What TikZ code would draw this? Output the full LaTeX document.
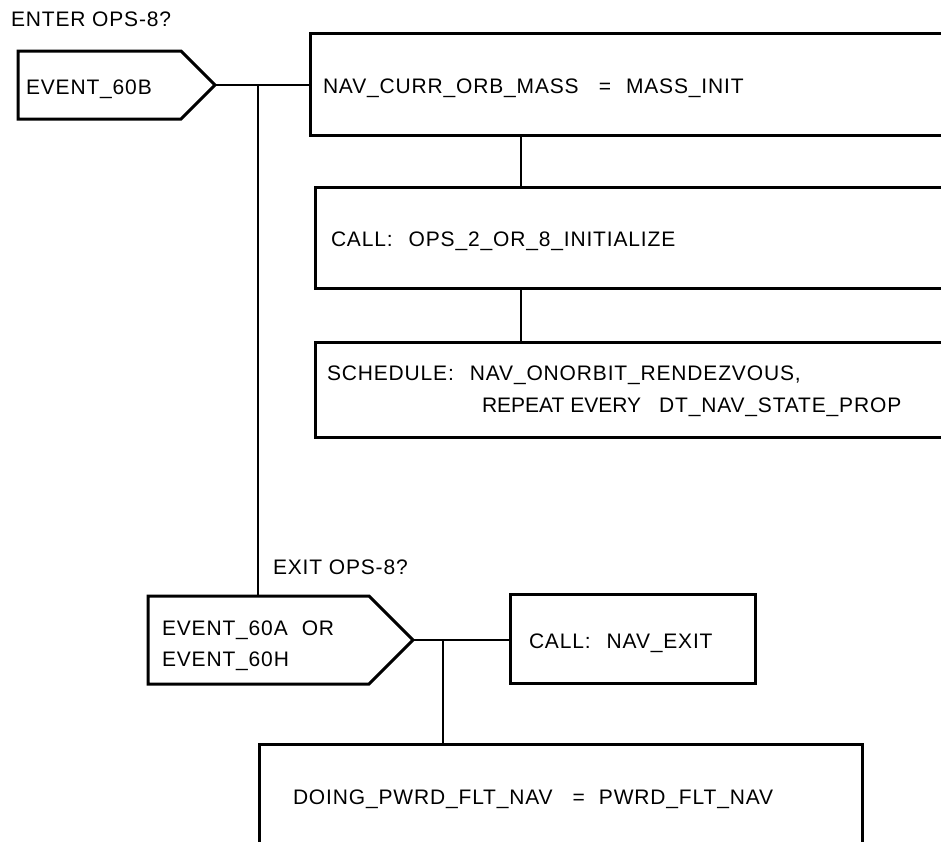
\documentclass[tikz,border=0pt]{standalone}
\usepackage{fontspec}
\setmainfont{Liberation Sans}[LetterSpace=4.0]
\newfontfamily\plainfont{Liberation Sans}
\begin{document}
\begin{tikzpicture}[x=1pt,y=-1pt,
  outline/.style={draw=black,line width=3pt,line join=miter},
  wire/.style={draw=black,line width=2.6pt},
  txt/.style={anchor=base west,inner sep=0pt,outer sep=0pt,text=black,font=\fontsize{21}{31}\selectfont},
  box/.style={draw=black,line width=3pt,rectangle,inner sep=0pt,outer sep=0pt,anchor=north west}]
\fill[white] (0,0) rectangle (941,841);
\useasboundingbox (0,0) rectangle (941,841);

% boxes
\node[box,minimum width=650pt,minimum height=102pt] (b1) at (310,33) {};
\node[box,minimum width=650pt,minimum height=101pt] (b2) at (315,187) {};
\node[box,minimum width=650pt,minimum height=95pt] (b3) at (315,342) {};
\node[box,minimum width=245pt,minimum height=89pt] (b4) at (510,594) {};
\node[box,minimum width=603pt,minimum height=160pt] (b5) at (259,744) {};

% pentagons
\coordinate (p1a) at (18,51);
\coordinate (p1b) at (181,51);
\coordinate (p1tip) at (215,85);
\coordinate (p1c) at (181,119);
\coordinate (p1d) at (18,119);
\draw[outline] (p1a) -- (p1b) -- (p1tip) -- (p1c) -- (p1d) -- cycle;

\coordinate (p2a) at (148,596);
\coordinate (p2b) at (369,596);
\coordinate (p2tip) at (413,640);
\coordinate (p2c) at (369,684);
\coordinate (p2d) at (148,684);
\draw[outline] (p2a) -- (p2b) -- (p2tip) -- (p2c) -- (p2d) -- cycle;

% junctions
\coordinate (j0) at (258,85);
\coordinate (c1) at (521,0);
\coordinate (j2) at (443,640);

% connectors
\draw[wire] (p1tip) -- (p1tip -| b1.west);
\draw[wire] (j0) -- (j0 |- p2a);
\draw[wire] (b1.south -| c1) -- (b2.north -| c1);
\draw[wire] (b2.south -| c1) -- (b3.north -| c1);
\draw[wire] (p2tip) -- (p2tip -| b4.west);
\draw[wire] (j2) -- (j2 |- b5.north);

% texts
\node[txt] (tenter) at (11,26) {ENTER OPS-8?};
\node[txt] (t60b) at (26,94) {EVENT\_60B};
\node[txt] (t1) at (323,93) {NAV\_CURR\_ORB\_MASS\hspace{20pt}=\hspace{15pt}MASS\_INIT};
\node[txt] (t2) at (331,246) {CALL:\hspace{16pt}OPS\_2\_OR\_8\_INITIALIZE};
\node[txt] (t3a) at (327,380) {SCHEDULE:\hspace{16pt}NAV\_ONORBIT\_RENDEZVOUS,};
\node[txt] (t3b) at (482,412) {{\plainfont REPEAT EVERY}\hspace{18pt}DT\_NAV\_STATE\_PROP};
\node[txt] (texit) at (273,574) {EXIT OPS-8?};
\node[txt] (t60a) at (162,635) {EVENT\_60A\hspace{14pt}OR};
\node[txt] (t60h) at (162,666) {EVENT\_60H};
\node[txt] (t4) at (529,648) {CALL:\hspace{16pt}NAV\_EXIT};
\node[txt] (t5) at (293,804) {DOING\_PWRD\_FLT\_NAV\hspace{20pt}=\hspace{14pt}PWRD\_FLT\_NAV};
\end{tikzpicture}
\end{document}
